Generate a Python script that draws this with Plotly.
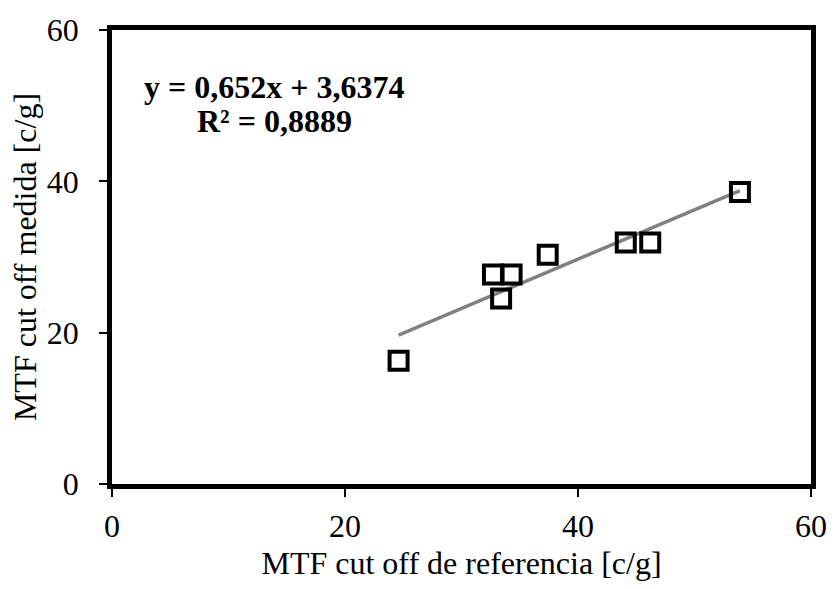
import plotly.graph_objects as go

# Data
x_ref = [24.6, 32.7, 34.3, 33.4, 37.4, 44.1, 46.2, 53.9]
y_med = [16.3, 27.7, 27.7, 24.5, 30.3, 31.9, 31.9, 38.6]

# Linear trendline as printed on the chart
slope = 0.652
intercept = 3.6374
r2 = 0.8889

eq_text = "y = 0,652x + 3,6374"
r2_text = "R² = 0,8889"

x_ticks = [0, 20, 40, 60]
y_ticks = [0, 20, 40, 60]

x_title = "MTF cut off de referencia [c/g]"
y_title = "MTF cut off medida [c/g]"

FONT = "Liberation Serif, Times New Roman, serif"
FS = 32

trend_x = [min(x_ref), max(x_ref)]
trend_y = [slope * v + intercept for v in trend_x]

fig = go.Figure()
fig.add_trace(go.Scatter(
    x=trend_x, y=trend_y, mode="lines",
    line=dict(color="#808080", width=3.5),
    showlegend=False, hoverinfo="skip",
))
fig.add_trace(go.Scatter(
    x=x_ref, y=y_med, mode="markers",
    marker=dict(symbol="square-open", size=18, color="black",
                line=dict(color="black", width=4)),
    showlegend=False,
))

axis_common = dict(
    showline=True, linecolor="black", linewidth=4.5, mirror=True,
    ticks="outside", ticklen=8, tickwidth=1.5, tickcolor="black",
    showgrid=False, zeroline=False,
    tickfont=dict(family=FONT, size=FS, color="black"),
)

fig.update_xaxes(range=[0, 60], tickvals=x_ticks, ticklabelstandoff=2, **axis_common,
                 title=dict(text=x_title, font=dict(family=FONT, size=FS, color="black"), standoff=10))
fig.update_yaxes(range=[0, 60], tickvals=y_ticks, ticklabelstandoff=14, **axis_common,
                 title=dict(text=y_title, font=dict(family=FONT, size=FS, color="black"), standoff=2))

fig.add_annotation(xref="paper", yref="paper", x=0.232, y=0.874, text="<b>" + eq_text + "</b>",
                   showarrow=False, xanchor="center", yanchor="middle",
                   font=dict(family=FONT, size=FS, color="black"))
fig.add_annotation(xref="paper", yref="paper", x=0.232, y=0.799, text="<b>" + r2_text + "</b>",
                   showarrow=False, xanchor="center", yanchor="middle",
                   font=dict(family=FONT, size=FS, color="black"))

fig.update_layout(
    width=839, height=589,
    margin=dict(l=112, r=16, t=24, b=103),
    paper_bgcolor="white", plot_bgcolor="white",
    font=dict(family=FONT, color="black"),
)

fig.write_html("out.html")
